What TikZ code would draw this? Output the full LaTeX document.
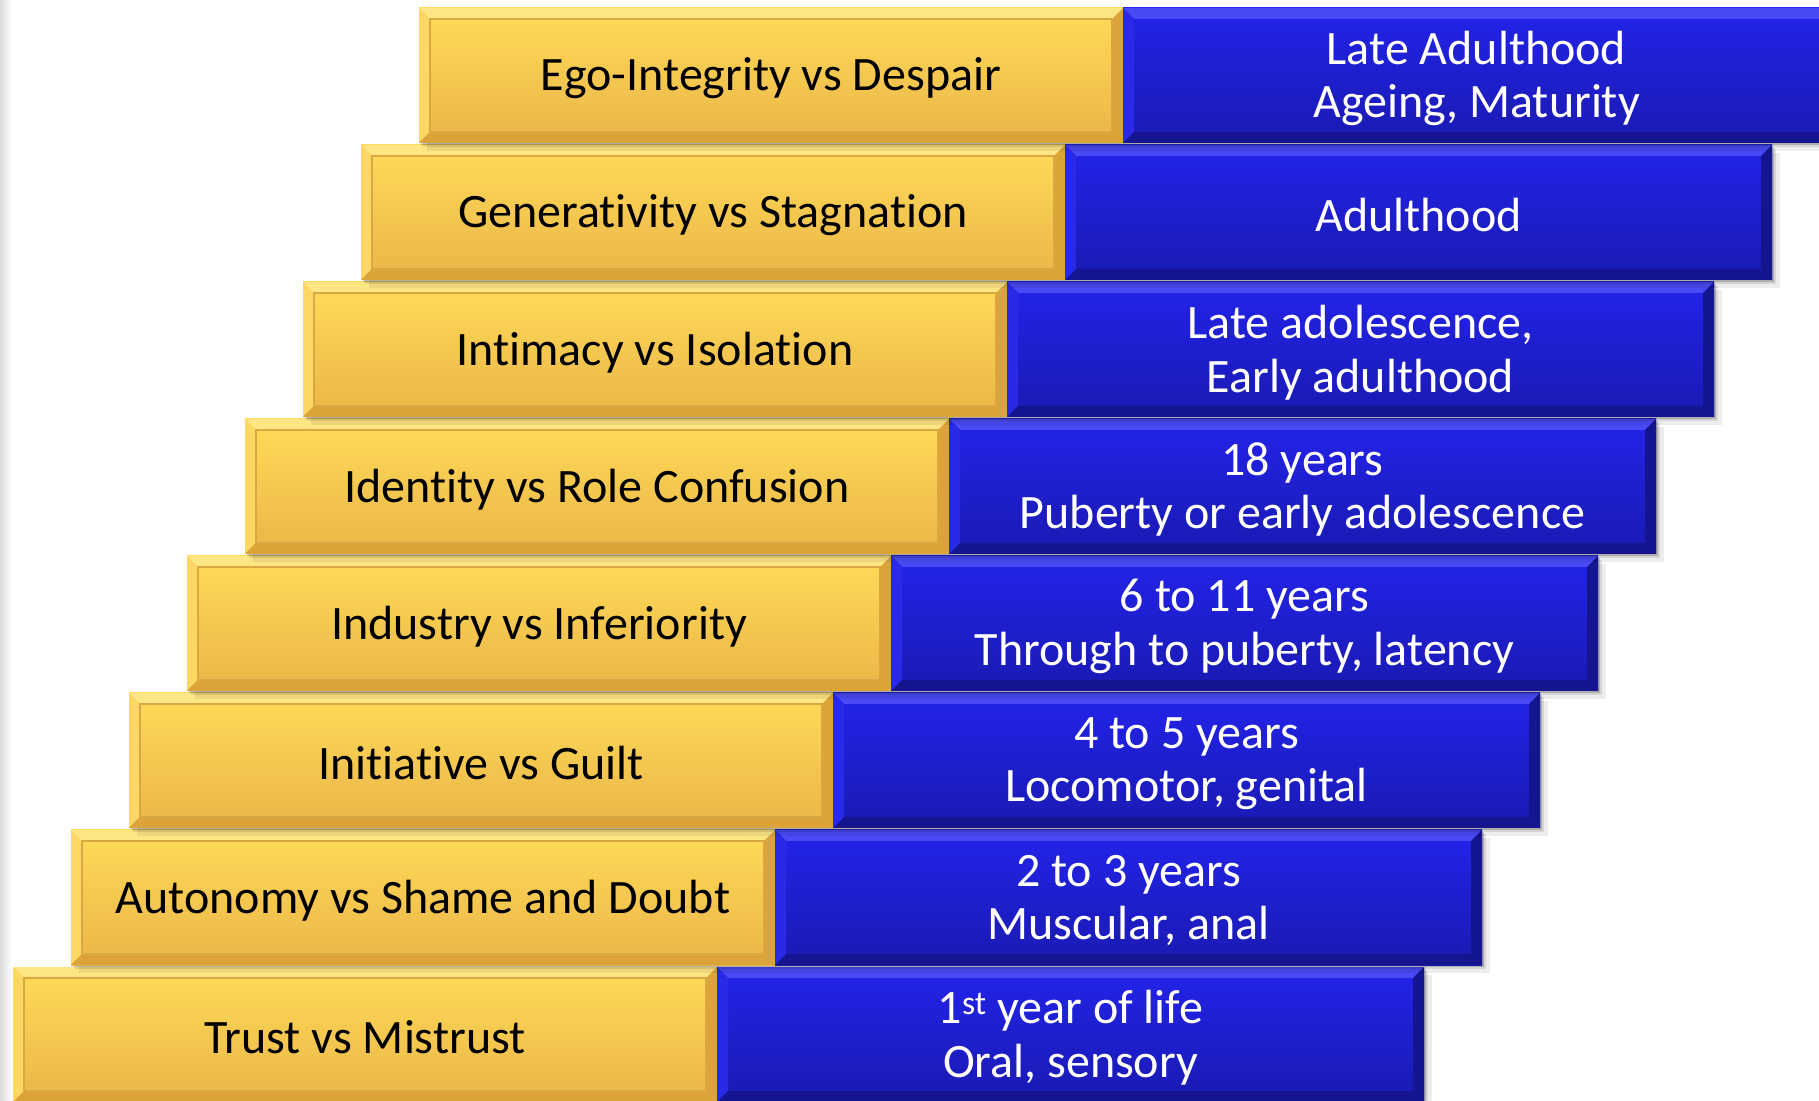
\documentclass[tikz,border=0pt]{standalone}
\usepackage{fontspec}
\setmainfont{Carlito}[Ligatures={NoCommon}]
\usetikzlibrary{calc}

\definecolor{goldtop}{HTML}{FFDB58}
\definecolor{goldbot}{HTML}{EAB548}
\definecolor{goldlight}{HTML}{FFE684}
\definecolor{goldside}{HTML}{FDD763}
\definecolor{golddark}{HTML}{DCA338}
\definecolor{goldline}{HTML}{D9A843}
\definecolor{bluetop}{HTML}{2323EA}
\definecolor{bluebot}{HTML}{1A1AB2}
\definecolor{bluelight}{HTML}{4A4AF4}
\definecolor{blueside}{HTML}{2A2AE6}
\definecolor{bluedark}{HTML}{15158F}

\tikzset{
  x=1pt, y=1pt,
  card/.style={minimum height=135pt, inner sep=0pt, outer sep=0pt},
  stagebox/.style={card, minimum width=704pt, top color=goldtop,
    bottom color=goldbot},
  agebox/.style={card, minimum width=707pt, top color=bluetop,
    bottom color=bluebot},
  cardtext/.style={inner sep=0pt, align=center,
    font=\fontsize{48}{53.5}\selectfont},
}

% bevelled rim of a box: #1 node, #2 top, #3 left, #4 right, #5 bottom
\newcommand\bevelrim[5]{%
  \fill[#2] (#1.north west) -- (#1.north east)
    -- ($(#1.north east)+(-11,-11)$) -- ($(#1.north west)+(11,-11)$) -- cycle;
  \fill[#3] (#1.north west) -- ($(#1.north west)+(11,-11)$)
    -- ($(#1.south west)+(11,11)$) -- (#1.south west) -- cycle;
  \fill[#4] (#1.north east) -- ($(#1.north east)+(-11,-11)$)
    -- ($(#1.south east)+(-11,11)$) -- (#1.south east) -- cycle;
  \fill[#5] (#1.south west) -- ($(#1.south west)+(11,11)$)
    -- ($(#1.south east)+(-11,11)$) -- (#1.south east) -- cycle;
}

% one step: #1 index, #2 x of the stage box centre, #3 y, #4 stage, #5 age
\newcommand\steprow[5]{%
  \fill[black,opacity=.07] (#2-352+8,#3-67.5-8) rectangle (#2+352+707+8,#3+67.5-8);
  \fill[black,opacity=.10] (#2-352+4,#3-67.5-4) rectangle (#2+352+707+4,#3+67.5-4);
  \fill[black,opacity=.18] (#2-352+2,#3-67.5-2) rectangle (#2+352+707+2,#3+67.5-2);
  \node[stagebox] (g#1) at (#2,#3) {};
  \node[agebox, anchor=west] (a#1) at (g#1.east) {};
  \bevelrim{g#1}{goldlight}{goldside}{golddark}{golddark}
  \draw[goldline, line width=1.2pt]
    ($(g#1.north west)+(11,-11)$) rectangle ($(g#1.south east)+(-11,11)$);
  \bevelrim{a#1}{bluelight}{blueside}{bluedark}{bluedark}
  \node[cardtext, text=black] (gt#1) at ([yshift=-3pt]g#1.center) {#4};
  \node[cardtext, text=white] (at#1) at ([yshift=-3pt]a#1.center) {#5};
}

\begin{document}
\begin{tikzpicture}
  \useasboundingbox (0,0) rectangle (1819,1100);
  \clip (0,0) rectangle (1819,1100);
  \fill[white] (0,0) rectangle (1819,1100);
  \shade[left color=black!14, right color=white] (0,0) rectangle (12,1100);

  \steprow{1}{365}{65.5}{Trust vs Mistrust}{1\textsuperscript{st} year of life\\Oral, sensory}
  \steprow{2}{423}{202.5}{Autonomy vs Shame and Doubt}{2 to 3 years\\Muscular, anal}
  \steprow{3}{481}{339.5}{Initiative vs Guilt}{4 to 5 years\\Locomotor, genital}
  \steprow{4}{539}{476.5}{Industry vs Inferiority}{6 to 11 years\\Through to puberty, latency}
  \steprow{5}{597}{613.5}{Identity vs Role Confusion}{18 years\\Puberty or early adolescence}
  \steprow{6}{655}{750.5}{Intimacy vs Isolation}{Late adolescence,\\Early adulthood}
  \steprow{7}{713}{887.5}{Generativity vs Stagnation}{Adulthood}
  \steprow{8}{771}{1024.5}{Ego-Integrity vs Despair}{Late Adulthood\\Ageing, Maturity}
\end{tikzpicture}
\end{document}
